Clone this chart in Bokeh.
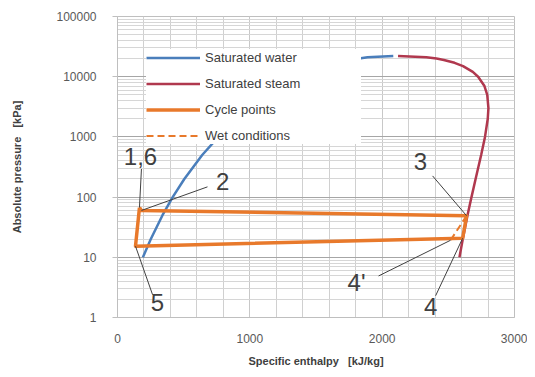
from bokeh.plotting import figure
from bokeh.models import (FixedTicker, LogTicker, NumeralTickFormatter, Legend,
                          LegendItem, ColumnDataSource)
from bokeh.core.properties import value
from bokeh.embed import file_html
from bokeh.resources import INLINE

# Saturated water line (pressure kPa, enthalpy kJ/kg)
water_p = [10, 20, 50, 100, 200, 500, 1000, 2000, 3000, 5000, 7000, 10000,
           12000, 15000, 17000, 19000, 20000, 21000, 22064]
water_h = [192, 251, 340, 417, 505, 640, 763, 909, 1008, 1155, 1267, 1408,
           1492, 1610, 1691, 1777, 1827, 1889, 2084]

# Saturated steam line
steam_p = [10, 20, 50, 100, 200, 500, 1000, 2000, 3000, 5000, 7000, 10000,
           12000, 15000, 17000, 19000, 20000, 21000, 22000]
steam_h = [2584, 2609, 2645, 2675, 2706, 2748, 2777, 2798, 2803, 2794, 2773,
           2725, 2685, 2611, 2547, 2466, 2411, 2334, 2120]

# Cycle points 1..6 (6 = 1)
cycle_h = [166, 181, 2638, 2608, 136, 166]
cycle_p = [67, 60, 49, 20.7, 15.3, 67]

# Wet conditions (3 -> 4')
wet_h = [2638, 2517]
wet_p = [49, 19.2]

# Point labels and their leader lines
label_text = ["1,6", "2", "3", "4'", "4", "5"]
label_h = [174, 794, 2290, 1806, 2366, 302]
label_p = [480, 179, 397, 3.77, 1.52, 1.77]
leader_h0 = [181, 680, 2381, 1973, 2404, 265]
leader_p0 = [293, 148, 225, 4.9, 2.3, 2.39]
leader_h1 = [166, 181, 2638, 2517, 2608, 136]
leader_p1 = [67, 60, 49, 19.2, 20.7, 15.3]

x_ticks = [0, 1000, 2000, 3000]
y_ticks = [1, 10, 100, 1000, 10000, 100000]

FONT = "Liberation Sans"
NB = "\u00a0"

p = figure(width=527, height=369, output_backend="svg", toolbar_location=None,
           y_axis_type="log", x_range=(0, 3000), y_range=(1, 100000),
           min_border_left=117, min_border_right=13, min_border_top=16,
           min_border_bottom=49)
p.background_fill_color = "white"
p.border_fill_color = "white"
p.outline_line_color = "#BFBFBF"

# axes
p.xaxis.ticker = FixedTicker(ticks=x_ticks,
                             minor_ticks=list(range(0, 3001, 200)))
p.yaxis.ticker = LogTicker(num_minor_ticks=10)
p.yaxis.formatter = NumeralTickFormatter(format="0")
for ax in (p.xaxis[0], p.yaxis[0]):
    ax.axis_line_color = "#BFBFBF"
    ax.major_tick_line_color = "#BFBFBF"
    ax.minor_tick_line_color = None
    ax.major_label_text_font = FONT
    ax.major_label_text_font_size = "12px"
    ax.major_label_text_color = "#595959"
    ax.axis_label_text_font = FONT
    ax.axis_label_text_font_size = "11px"
    ax.axis_label_text_font_style = "bold"
    ax.axis_label_text_color = "#404040"
p.xaxis.major_tick_out = 0
p.xaxis.major_tick_in = 0
p.xaxis.major_label_standoff = 12
p.yaxis.major_tick_out = 5
p.yaxis.major_tick_in = 0
p.yaxis.major_label_standoff = 16
p.xaxis.axis_label = "Specific enthalpy" + NB * 3 + "[kJ/kg]"
p.yaxis.axis_label = "Absolute pressure" + NB * 3 + "[kPa]"
p.xaxis.axis_label_standoff = 9
p.yaxis.axis_label_standoff = 30

# grids
p.xgrid.grid_line_color = "#C8C8C8"
p.xgrid.minor_grid_line_color = "#D0D0D0"
p.ygrid.grid_line_color = "#A6A6A6"
p.ygrid.minor_grid_line_color = "#D6D6D6"

r_water = p.line(water_h, water_p, line_color="#4A7EBB", line_width=2.5)
r_steam = p.line(steam_h, steam_p, line_color="#B0384E", line_width=2.5)
r_cycle = p.line(cycle_h, cycle_p, line_color="#E8792B", line_width=3.5,
                 line_join="round")
r_wet = p.line(wet_h, wet_p, line_color="#E8792B", line_width=2,
               line_dash="7 4")

# leaders
p.segment(x0=leader_h0, y0=leader_p0, x1=leader_h1, y1=leader_p1,
          line_color="#404040", line_width=1)
src = ColumnDataSource(dict(h=label_h, p=label_p, t=label_text))
p.text(x="h", y="p", text="t", source=src, text_align="center",
       text_baseline="middle", text_font=value(FONT),
       text_font_size="24px", text_color="#404040")

legend = Legend(items=[
    LegendItem(label="Saturated water", renderers=[r_water]),
    LegendItem(label="Saturated steam", renderers=[r_steam]),
    LegendItem(label="Cycle points", renderers=[r_cycle]),
    LegendItem(label="Wet conditions", renderers=[r_wet]),
], location=(29, 173))
legend.margin = 0
legend.padding = 10
legend.spacing = 9
legend.glyph_width = 54
legend.glyph_height = 17
legend.label_height = 17
legend.label_width = 156
legend.label_standoff = 5
legend.label_text_font = FONT
legend.label_text_font_size = "13px"
legend.label_text_color = "#404040"
legend.border_line_color = None
legend.background_fill_color = "white"
legend.background_fill_alpha = 1.0
p.add_layout(legend, "center")

open("out.html", "w").write(file_html(p, INLINE))
